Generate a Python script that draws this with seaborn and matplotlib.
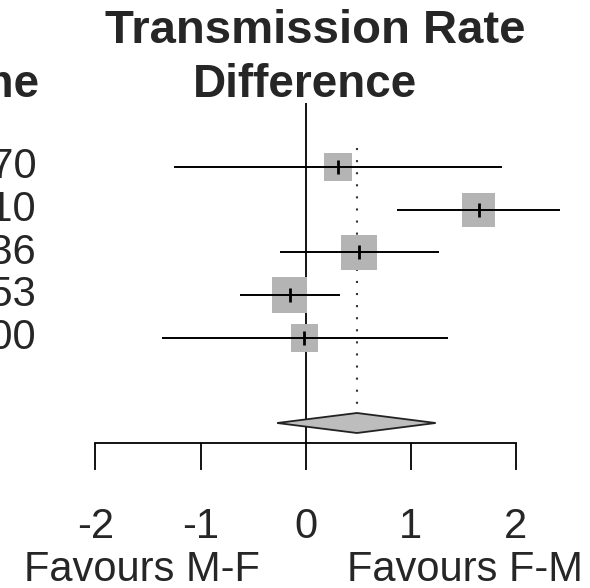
import numpy as np
import pandas as pd
import seaborn as sns
import matplotlib.pyplot as plt
import matplotlib.transforms as mtransforms

# Forest plot data (cropped view: study names partly outside the frame)
studies = ["1970", "2010", "1936", "1953", "2000"]
estimate = [0.31, 1.65, 0.51, -0.15, -0.01]
ci_low = [-1.25, 0.87, -0.24, -0.62, -1.37]
ci_high = [1.87, 2.42, 1.27, 0.33, 1.36]
weight = [16, 23, 26, 26, 16]

pooled = 0.49
pooled_low = -0.27
pooled_high = 1.24

xticks = [-2, -1, 0, 1, 2]

df = pd.DataFrame({"study": studies, "est": estimate, "lo": ci_low,
                   "hi": ci_high, "w": weight, "row": np.arange(len(studies))})

sns.set_style("white")
plt.rcParams["font.family"] = ["Liberation Sans", "DejaVu Sans"]

W, H = 590, 588
fig = plt.figure(figsize=(W / 100, H / 100), dpi=100)
axis_px = 443
ax = fig.add_axes([0, (H - axis_px) / H, 1, axis_px / H])

zero_px, unit_x = 305.5, 105
row0_px, unit_y = 167.3, 42.6
ax.set_xlim(-zero_px / unit_x, (W - zero_px) / unit_x)
ax.set_ylim((axis_px - row0_px) / unit_y, -row0_px / unit_y)

# reference lines
ax.vlines(0, (103 - row0_px) / unit_y, (axis_px - row0_px) / unit_y,
          color="black", lw=1.3, zorder=1)
ax.vlines(pooled, (148 - row0_px) / unit_y, (413 - row0_px) / unit_y,
          color="#333333", lw=1.5, linestyles=[(0, (1, 4.8))], zorder=1)

# study boxes, CIs and centre marks
sns.scatterplot(data=df, x="est", y="row", size="w", sizes=(400, 650),
                size_norm=(16, 26), marker="s", color="#b4b4b4",
                edgecolor="none", legend=False, ax=ax, zorder=2)
ax.hlines(df["row"], df["lo"], df["hi"], color="black", lw=1.4, zorder=3)
ax.scatter(df["est"], df["row"], marker="|", s=110, color="black",
           linewidths=2, zorder=4)

# pooled diamond
dy = 0.235
yd = (423 - row0_px) / unit_y
ax.fill([pooled_low, pooled, pooled_high, pooled],
        [yd, yd - dy, yd, yd + dy], facecolor="#bdbdbd",
        edgecolor="#222222", lw=1.3, zorder=3)

# axis
for s in ["top", "left", "right"]:
    ax.spines[s].set_visible(False)
ax.spines["bottom"].set_bounds(xticks[0], xticks[-1])
ax.spines["bottom"].set_linewidth(1.3)
ax.spines["bottom"].set_color("black")
ax.set_xticks(xticks)
ax.set_xticklabels([str(t) for t in xticks])
ax.tick_params(axis="x", bottom=True, direction="out", length=19.4,
               width=1.3, color="black", pad=27, labelsize=30)
ax.set_yticks([])
ax.set_xlabel("")
ax.set_ylabel("")

# study labels (left column, mostly cropped)
for r, name in zip(df["row"], studies):
    ax.text(-zero_px / unit_x + 37 / unit_x, r, name, ha="right",
            va="center", fontsize=30, clip_on=False)

# headers
fig.text(315 / W, 1 - 31 / H, "Transmission Rate", ha="center", va="center",
         fontsize=34, fontweight="bold", color="#262626")
fig.text(305 / W, 1 - 85 / H, "Difference", ha="center", va="center",
         fontsize=33, fontweight="bold", color="#262626")
fig.text(40 / W, 1 - 85 / H, "Name", ha="right", va="center",
         fontsize=33, fontweight="bold", color="#262626")

# favours labels
tr = mtransforms.blended_transform_factory(ax.transData, fig.transFigure)
ax.text(-1.56, 1 - 570 / H, "Favours M-F", transform=tr, ha="center",
        va="center", fontsize=30, clip_on=False)
ax.text(1.52, 1 - 570 / H, "Favours F-M", transform=tr, ha="center",
        va="center", fontsize=30, clip_on=False)

fig.savefig("out.png", dpi=100)
